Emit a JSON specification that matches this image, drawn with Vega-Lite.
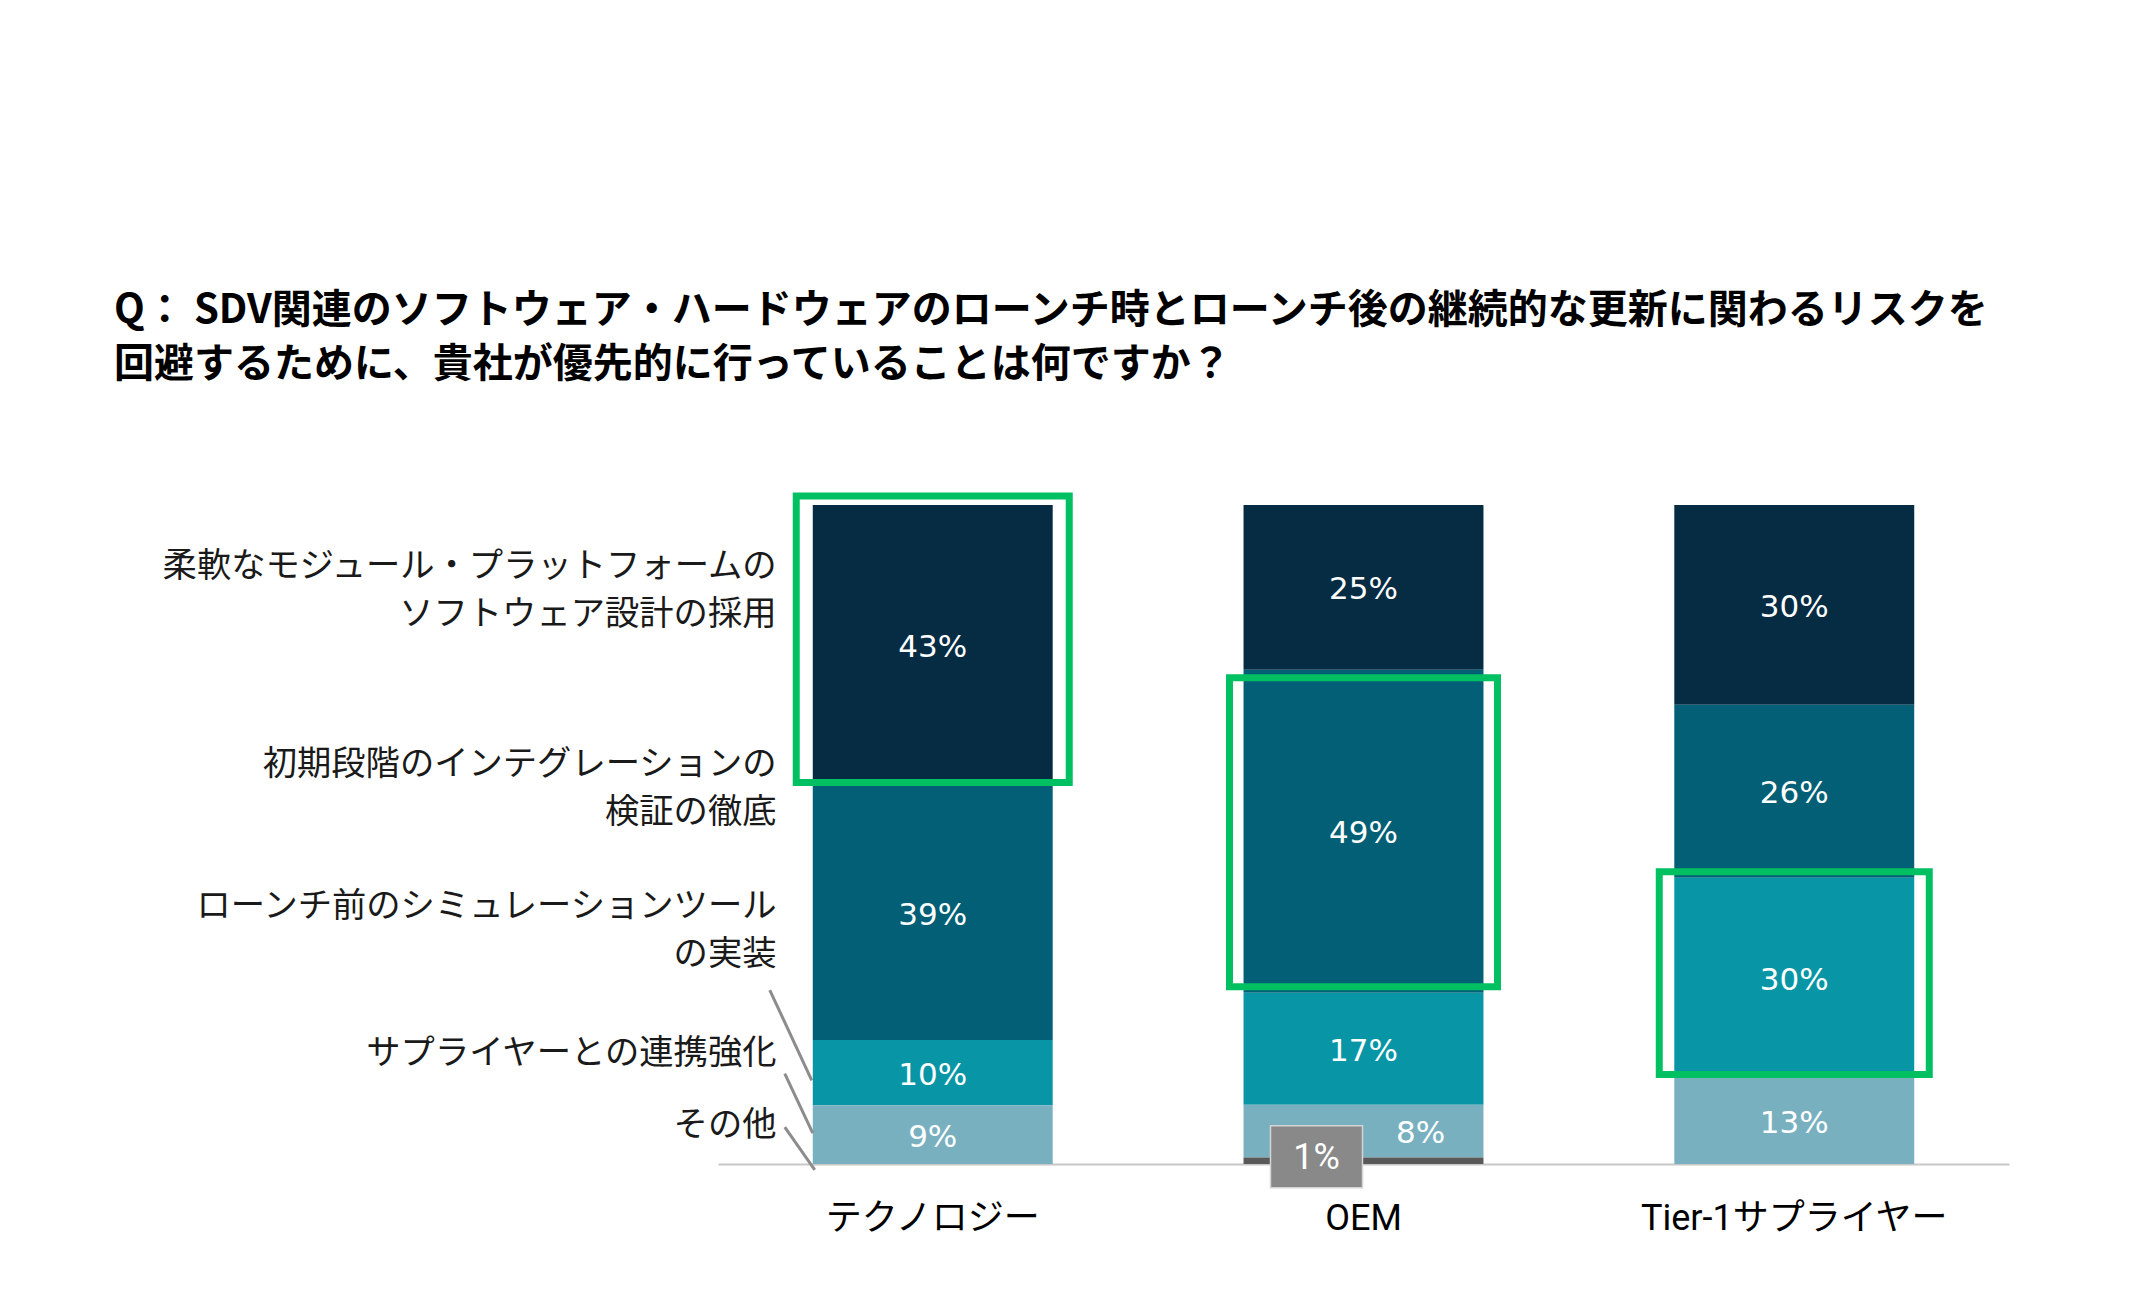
{
  "$schema": "https://vega.github.io/schema/vega-lite/v6.json",
  "width": 1291,
  "height": 659,
  "autosize": "none",
  "padding": {"left": 718, "top": 505, "right": 121, "bottom": 132},
  "background": "white",
  "config": {"view": {"stroke": null}},
  "title": {
    "text": ["Q： SDV関連のソフトウェア・ハードウェアのローンチ時とローンチ後の継続的な更新に関わるリスクを", "回避するために、貴社が優先的に行っていることは何ですか？"],
    "font": "Noto Sans CJK JP",
    "fontSize": 40,
    "fontWeight": "bold",
    "color": "#000000",
    "anchor": "start",
    "frame": "group",
    "dx": -604,
    "lineHeight": 54,
    "offset": 108
  },
  "data": {
    "values": [
      {"group": "テクノロジー", "item": "柔軟なモジュール・プラットフォームのソフトウェア設計の採用", "rank": 5, "value": 43, "highlight": true},
      {"group": "テクノロジー", "item": "初期段階のインテグレーションの検証の徹底", "rank": 4, "value": 39, "highlight": false},
      {"group": "テクノロジー", "item": "ローンチ前のシミュレーションツールの実装", "rank": 3, "value": 10, "highlight": false},
      {"group": "テクノロジー", "item": "サプライヤーとの連携強化", "rank": 2, "value": 9, "highlight": false},
      {"group": "テクノロジー", "item": "その他", "rank": 1, "value": 0, "highlight": false},
      {"group": "OEM", "item": "柔軟なモジュール・プラットフォームのソフトウェア設計の採用", "rank": 5, "value": 25, "highlight": false},
      {"group": "OEM", "item": "初期段階のインテグレーションの検証の徹底", "rank": 4, "value": 49, "highlight": true},
      {"group": "OEM", "item": "ローンチ前のシミュレーションツールの実装", "rank": 3, "value": 17, "highlight": false},
      {"group": "OEM", "item": "サプライヤーとの連携強化", "rank": 2, "value": 8, "highlight": false},
      {"group": "OEM", "item": "その他", "rank": 1, "value": 1, "highlight": false},
      {"group": "Tier-1サプライヤー", "item": "柔軟なモジュール・プラットフォームのソフトウェア設計の採用", "rank": 5, "value": 30, "highlight": false},
      {"group": "Tier-1サプライヤー", "item": "初期段階のインテグレーションの検証の徹底", "rank": 4, "value": 26, "highlight": false},
      {"group": "Tier-1サプライヤー", "item": "ローンチ前のシミュレーションツールの実装", "rank": 3, "value": 30, "highlight": true},
      {"group": "Tier-1サプライヤー", "item": "サプライヤーとの連携強化", "rank": 2, "value": 13, "highlight": false},
      {"group": "Tier-1サプライヤー", "item": "その他", "rank": 1, "value": 0, "highlight": false}
    ]
  },
  "transform": [
    {"stack": "value", "groupby": ["group"], "sort": [{"field": "rank", "order": "ascending"}], "offset": "normalize", "as": ["y0", "y1"]},
    {"calculate": "(datum.y0 + datum.y1) / 2", "as": "mid"},
    {"calculate": "datum.value + '%'", "as": "label"}
  ],
  "encoding": {
    "x": {
      "field": "group",
      "type": "nominal",
      "scale": {"domain": ["テクノロジー", "OEM", "Tier-1サプライヤー"], "paddingInner": 0.443, "paddingOuter": 0.22},
      "axis": {
        "title": null,
        "labelAngle": 0,
        "labelFont": "Roboto, Noto Sans CJK JP",
        "labelFontSize": 36,
        "labelColor": "#000000",
        "labelPadding": 37,
        "labelLimit": 0,
        "ticks": false,
        "domainColor": "#c8c8c8",
        "domainWidth": 2,
        "grid": false
      }
    }
  },
  "layer": [
    {
      "mark": {"type": "bar"},
      "encoding": {
        "y": {
          "field": "y1",
          "type": "quantitative",
          "title": null,
          "scale": {"domain": [0, 1], "nice": false, "zero": true},
          "axis": {
            "orient": "left",
            "offset": -58,
            "domain": false,
            "ticks": false,
            "grid": false,
            "labelPadding": 0,
            "values": [0.907, 0.606, 0.391, 0.168, 0.059],
            "labelExpr": "datum.value > 0.8 ? ['柔軟なモジュール・プラットフォームの', 'ソフトウェア設計の採用'] : datum.value > 0.5 ? ['初期段階のインテグレーションの', '検証の徹底'] : datum.value > 0.3 ? ['ローンチ前のシミュレーションツール', 'の実装'] : datum.value > 0.1 ? 'サプライヤーとの連携強化' : 'その他'",
            "labelFont": "Noto Sans CJK JP",
            "labelFontSize": 34.3,
            "labelColor": "#1a1a1a",
            "labelLineHeight": 48,
            "labelBaseline": "middle",
            "labelAlign": "right",
            "labelLimit": 0,
            "labelOverlap": false,
            "labelFlush": false
          }
        },
        "y2": {"field": "y0"},
        "color": {
          "field": "item",
          "type": "nominal",
          "legend": null,
          "scale": {
            "domain": ["柔軟なモジュール・プラットフォームのソフトウェア設計の採用", "初期段階のインテグレーションの検証の徹底", "ローンチ前のシミュレーションツールの実装", "サプライヤーとの連携強化", "その他"],
            "range": ["#062c43", "#035f75", "#0896a6", "#79b0bf", "#595959"]
          }
        }
      }
    },
    {
      "transform": [{"filter": "datum.highlight && datum.group == 'テクノロジー'"}],
      "mark": {"type": "bar", "fillOpacity": 0, "stroke": "#00c062", "strokeWidth": 7, "width": 273, "yOffset": -9, "y2Offset": -3},
      "encoding": {
        "y": {"field": "y1", "type": "quantitative", "title": null},
        "y2": {"field": "y0"}
      }
    },
    {
      "transform": [{"filter": "datum.highlight && datum.group == 'OEM'"}],
      "mark": {"type": "bar", "fillOpacity": 0, "stroke": "#00c062", "strokeWidth": 7, "width": 268, "yOffset": 8, "y2Offset": -6},
      "encoding": {
        "y": {"field": "y1", "type": "quantitative", "title": null},
        "y2": {"field": "y0"}
      }
    },
    {
      "transform": [{"filter": "datum.highlight && datum.group == 'Tier-1サプライヤー'"}],
      "mark": {"type": "bar", "fillOpacity": 0, "stroke": "#00c062", "strokeWidth": 7, "width": 270, "yOffset": -6, "y2Offset": -3},
      "encoding": {
        "y": {"field": "y1", "type": "quantitative", "title": null},
        "y2": {"field": "y0"}
      }
    },
    {
      "transform": [{"filter": "datum.value >= 2 && !(datum.group == 'OEM' && datum.rank == 2)"}],
      "mark": {"type": "text", "font": "DejaVu Sans", "fontSize": 31, "color": "white", "baseline": "middle", "align": "center", "dy": 3},
      "encoding": {
        "y": {"field": "mid", "type": "quantitative", "title": null},
        "text": {"field": "label", "type": "nominal"}
      }
    },
    {
      "transform": [{"filter": "datum.group == 'OEM' && datum.rank == 2"}],
      "mark": {"type": "text", "font": "DejaVu Sans", "fontSize": 31, "color": "white", "baseline": "middle", "align": "center", "dx": 57, "dy": 3},
      "encoding": {
        "y": {"field": "mid", "type": "quantitative", "title": null},
        "text": {"field": "label", "type": "nominal"}
      }
    },
    {
      "transform": [{"filter": "datum.group == 'OEM' && datum.rank == 1"}],
      "mark": {"type": "point", "shape": "M-1,-0.674L1,-0.674L1,0.674L-1,0.674Z", "size": 8464, "filled": true, "fill": "#898989", "stroke": "#d4d4d4", "strokeWidth": 1.5, "opacity": 1, "fillOpacity": 1, "xOffset": -47, "yOffset": -4},
      "encoding": {
        "y": {"field": "mid", "type": "quantitative", "title": null}
      }
    },
    {
      "transform": [{"filter": "datum.group == 'OEM' && datum.rank == 1"}],
      "mark": {"type": "text", "font": "Roboto", "fontSize": 36, "color": "white", "baseline": "middle", "align": "center", "dx": -47, "dy": -3},
      "encoding": {
        "y": {"field": "mid", "type": "quantitative", "title": null},
        "text": {"field": "label", "type": "nominal"}
      }
    },
    {
      "data": {"values": [{}]},
      "mark": {"type": "rule", "color": "#8c8c8c", "strokeWidth": 3, "xOffset": -43, "x2Offset": -121},
      "encoding": {
        "x": {"datum": "テクノロジー", "type": "nominal", "bandPosition": 0},
        "x2": {"datum": "テクノロジー"},
        "y": {"datum": 0.264, "type": "quantitative"},
        "y2": {"datum": 0.127}
      }
    },
    {
      "data": {"values": [{}]},
      "mark": {"type": "rule", "color": "#8c8c8c", "strokeWidth": 3, "xOffset": -28, "x2Offset": -120},
      "encoding": {
        "x": {"datum": "テクノロジー", "type": "nominal", "bandPosition": 0},
        "x2": {"datum": "テクノロジー"},
        "y": {"datum": 0.137, "type": "quantitative"},
        "y2": {"datum": 0.047}
      }
    },
    {
      "data": {"values": [{}]},
      "mark": {"type": "rule", "color": "#8c8c8c", "strokeWidth": 3, "xOffset": -28, "x2Offset": -118},
      "encoding": {
        "x": {"datum": "テクノロジー", "type": "nominal", "bandPosition": 0},
        "x2": {"datum": "テクノロジー"},
        "y": {"datum": 0.056, "type": "quantitative"},
        "y2": {"datum": -0.009}
      }
    }
  ]
}
